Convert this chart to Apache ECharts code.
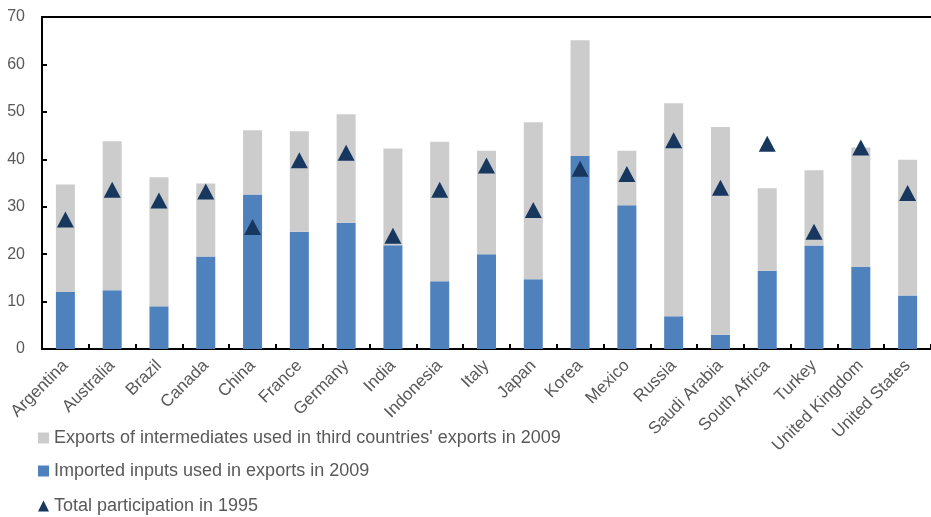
<!DOCTYPE html>
<html>
<head>
<meta charset="utf-8">
<script src="https://cdn.jsdelivr.net/npm/echarts@6/dist/echarts.min.js"></script>
<style>
html,body{margin:0;padding:0;background:#fff;}
#chart{width:931px;height:517px;}
</style>
</head>
<body>
<div id="chart"></div>
<script>
const categories = ['Argentina','Australia','Brazil','Canada','China','France','Germany','India','Indonesia','Italy','Japan','Korea','Mexico','Russia','Saudi Arabia','South Africa','Turkey','United Kingdom','United States'];
// Imported inputs used in exports in 2009
const importedInputs = [12.0, 12.4, 9.0, 19.5, 32.6, 24.7, 26.6, 21.9, 14.3, 20.0, 14.7, 40.7, 30.3, 6.9, 3.0, 16.5, 21.8, 17.3, 11.3];
// Total (top of stacked bar) in 2009
const total2009 = [34.7, 43.8, 36.2, 34.9, 46.1, 45.9, 49.5, 42.3, 43.7, 41.8, 47.8, 65.1, 41.8, 51.8, 46.8, 33.9, 37.7, 42.5, 39.9];
// Total participation in 1995
const total1995 = [27.3, 33.6, 31.3, 33.2, 25.7, 39.8, 41.4, 23.9, 33.6, 38.7, 29.3, 38.0, 36.9, 44.0, 34.0, 43.3, 24.7, 42.5, 32.9];
// Exports of intermediates used in third countries' exports (stacked part)
const exportsIntermediates = total2009.map((t, i) => +(t - importedInputs[i]).toFixed(1));

const NAME_EXP = "Exports of intermediates used in third countries' exports in 2009";
const NAME_IMP = 'Imported inputs used in exports in 2009';
const NAME_TOT = 'Total participation in 1995';

const FONT = '"Liberation Sans", Arial, sans-serif';
const TXT = '#595959';

function legendAt(top, name, icon, w, h) {
  return {
    orient: 'vertical', left: 33, top: top,
    itemWidth: w, itemHeight: h, itemGap: 0,
    textStyle: {color: TXT, fontSize: 18, fontFamily: FONT, lineHeight: 20},
    data: [{name: name, icon: icon}]
  };
}

const chart = echarts.init(document.getElementById('chart'), null, {renderer: 'canvas'});
chart.setOption({
  animation: false,
  backgroundColor: '#fff',
  grid: {left: 42, top: 17, width: 894, height: 332, containLabel: false},
  legend: [
    legendAt(423, NAME_EXP, 'rect', 11, 11),
    legendAt(456, NAME_IMP, 'rect', 11, 11),
    legendAt(491, NAME_TOT, 'triangle', 11, 11)
  ],
  xAxis: [{
    type: 'category',
    data: categories,
    axisLine: {show: true, lineStyle: {color: '#000', width: 2}},
    axisTick: {show: true, inside: true, length: 5, lineStyle: {color: '#000', width: 2}},
    axisLabel: {interval: 0, rotate: 45, margin: 14, color: TXT, fontSize: 17, fontFamily: FONT},
    splitLine: {show: false}
  }, {
    type: 'category',
    position: 'top',
    data: categories,
    axisLine: {show: true, lineStyle: {color: '#000', width: 2}},
    axisTick: {show: false},
    axisLabel: {show: false},
    splitLine: {show: false}
  }],
  yAxis: {
    type: 'value',
    min: 0, max: 70, interval: 10,
    axisLine: {show: true, lineStyle: {color: '#000', width: 2}},
    axisTick: {show: true, inside: true, length: 5, lineStyle: {color: '#000', width: 2}},
    axisLabel: {color: TXT, fontSize: 16, fontFamily: FONT, margin: 17},
    splitLine: {show: false}
  },
  series: [
    {
      name: NAME_IMP,
      type: 'bar', stack: 'total', barWidth: 19,
      itemStyle: {color: '#4F81BD'},
      data: importedInputs
    },
    {
      name: NAME_EXP,
      type: 'bar', stack: 'total', barWidth: 19,
      itemStyle: {color: '#CCCCCC'},
      data: exportsIntermediates
    },
    {
      name: NAME_TOT,
      type: 'scatter', symbol: 'triangle', symbolSize: [17, 16],
      itemStyle: {color: '#17375E', opacity: 1},
      z: 5,
      data: total1995
    }
  ]
});
</script>
</body>
</html>
